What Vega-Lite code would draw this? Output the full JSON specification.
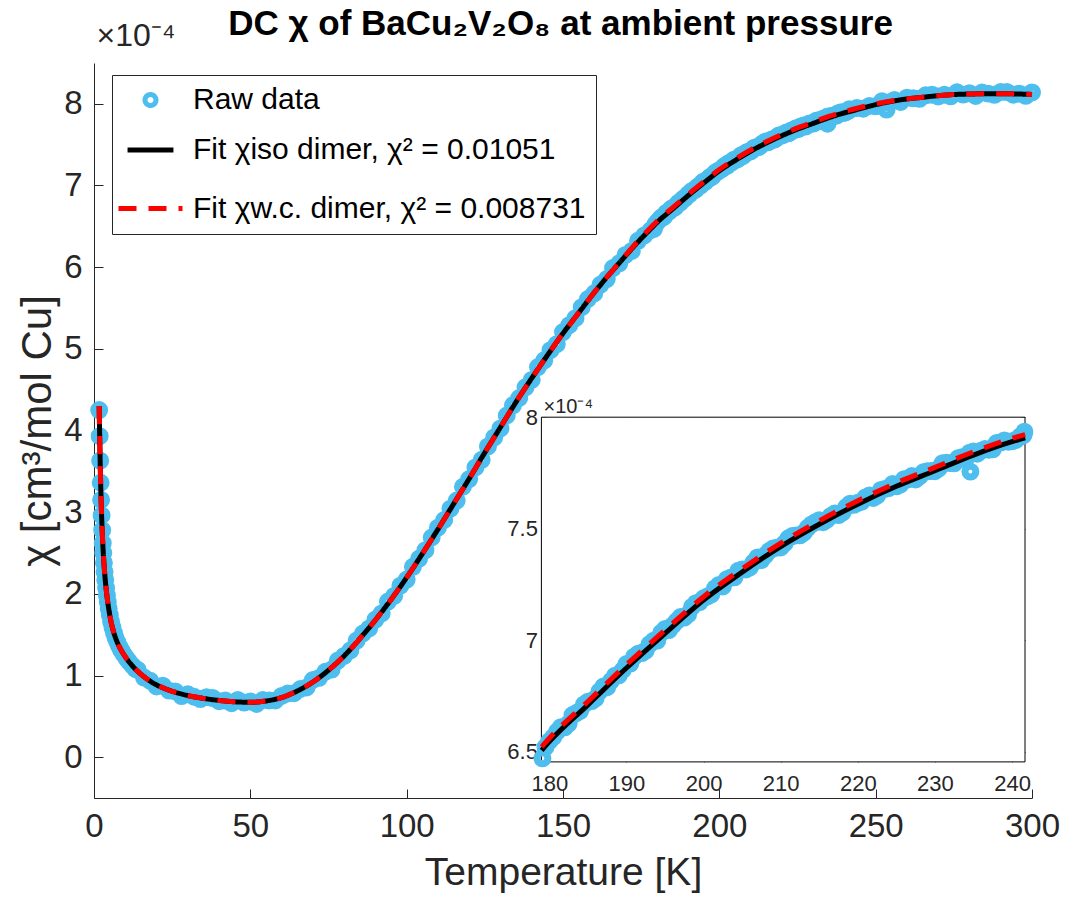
{
"$schema": "https://vega.github.io/schema/vega-lite/v6.json",
"width": 938, "height": 735,
"autosize": "none",
"padding": {"left": 94, "top": 63, "right": 33, "bottom": 103},
"background": "white",
"config": {"font": "Liberation Sans", "view": {"stroke": null}, "axis": {"grid": false}},
"datasets": {
"raw": [
{"T":1.65,"chi":4.25},{"T":1.81,"chi":3.93},{"T":1.97,"chi":3.63},{"T":2.13,"chi":3.36},{"T":2.27,"chi":3.15},{"T":2.43,"chi":2.96},{"T":2.61,"chi":2.78},{"T":2.8,"chi":2.62},{"T":2.97,"chi":2.5},{"T":3.17,"chi":2.38},{"T":3.38,"chi":2.27},{"T":3.6,"chi":2.17},{"T":3.87,"chi":2.07},{"T":4.14,"chi":1.98},{"T":4.4,"chi":1.9},{"T":4.7,"chi":1.82},{"T":5.05,"chi":1.74},{"T":5.45,"chi":1.66},{"T":5.9,"chi":1.59},{"T":6.4,"chi":1.52},{"T":6.9,"chi":1.46},{"T":7.45,"chi":1.41},{"T":8.0,"chi":1.36},{"T":8.7,"chi":1.31},{"T":9.5,"chi":1.26},{"T":10.4,"chi":1.21},{"T":11.2,"chi":1.17},{"T":12.3,"chi":1.12},{"T":13.2,"chi":1.08},
{"T":14,"chi":1.07},{"T":16,"chi":0.975},{"T":18,"chi":0.935},{"T":20,"chi":0.865},{"T":22,"chi":0.875},{"T":24,"chi":0.815},{"T":26,"chi":0.805},{"T":28,"chi":0.748},{"T":30,"chi":0.77},{"T":32,"chi":0.74},{"T":34,"chi":0.711},{"T":36,"chi":0.735},{"T":38,"chi":0.724},{"T":40,"chi":0.685},{"T":42,"chi":0.693},{"T":44,"chi":0.661},{"T":46,"chi":0.701},{"T":48,"chi":0.668},{"T":50,"chi":0.682},{"T":52,"chi":0.651},{"T":54,"chi":0.699},{"T":56,"chi":0.695},{"T":58,"chi":0.695},{"T":60,"chi":0.75},
{"T":62,"chi":0.78},{"T":64,"chi":0.783},{"T":66,"chi":0.835},{"T":68,"chi":0.853},{"T":70,"chi":0.945},{"T":72,"chi":0.971},{"T":74,"chi":1.046},{"T":76,"chi":1.073},{"T":78,"chi":1.183},{"T":80,"chi":1.24},{"T":82,"chi":1.308},{"T":84,"chi":1.428},{"T":86,"chi":1.514},{"T":88,"chi":1.577},{"T":90,"chi":1.685},{"T":92,"chi":1.76},{"T":94,"chi":1.905},{"T":96,"chi":1.975},{"T":98,"chi":2.1},{"T":100,"chi":2.175},
{"T":102,"chi":2.331},{"T":104,"chi":2.432},{"T":106,"chi":2.535},{"T":108,"chi":2.69},{"T":110,"chi":2.81},{"T":112,"chi":2.904},{"T":114,"chi":3.043},{"T":116,"chi":3.142},{"T":118,"chi":3.311},{"T":120,"chi":3.405},{"T":122,"chi":3.548},{"T":124,"chi":3.641},{"T":126,"chi":3.805},{"T":128,"chi":3.916},{"T":130,"chi":4.025},{"T":132,"chi":4.184},{"T":134,"chi":4.308},{"T":136,"chi":4.398},{"T":138,"chi":4.529},{"T":140,"chi":4.62},
{"T":142,"chi":4.777},{"T":144,"chi":4.859},{"T":146,"chi":4.984},{"T":148,"chi":5.057},{"T":150,"chi":5.205},{"T":152,"chi":5.29},{"T":154,"chi":5.375},{"T":156,"chi":5.51},{"T":158,"chi":5.61},{"T":160,"chi":5.68},{"T":162,"chi":5.787},{"T":164,"chi":5.854},{"T":166,"chi":5.989},{"T":168,"chi":6.047},{"T":170,"chi":6.15},{"T":172,"chi":6.199},{"T":174,"chi":6.323},{"T":176,"chi":6.389},{"T":178,"chi":6.452},
{"T":179.1,"chi":6.47},{"T":179.5,"chi":6.52},{"T":180,"chi":6.547},{"T":180.5,"chi":6.565},{"T":181,"chi":6.59},{"T":181.5,"chi":6.61},{"T":182,"chi":6.609},{"T":182.5,"chi":6.626},{"T":183,"chi":6.664},{"T":183.5,"chi":6.673},{"T":184,"chi":6.683},{"T":184.5,"chi":6.712},{"T":185,"chi":6.724},{"T":185.5,"chi":6.727},{"T":186,"chi":6.739},{"T":186.5,"chi":6.77},{"T":187,"chi":6.792},{"T":187.5,"chi":6.789},{"T":188,"chi":6.817},{"T":188.5,"chi":6.84},{"T":189,"chi":6.842},{"T":189.5,"chi":6.865},{"T":190,"chi":6.893},
{"T":190.5,"chi":6.895},{"T":191,"chi":6.926},{"T":191.5,"chi":6.939},{"T":192,"chi":6.942},{"T":192.5,"chi":6.953},{"T":193,"chi":6.982},{"T":193.5,"chi":6.997},{"T":194,"chi":6.998},{"T":194.5,"chi":7.033},{"T":195,"chi":7.05},{"T":195.5,"chi":7.045},{"T":196,"chi":7.066},{"T":196.5,"chi":7.085},{"T":197,"chi":7.104},{"T":197.5,"chi":7.101},{"T":198,"chi":7.116},{"T":198.5,"chi":7.149},{"T":199,"chi":7.166},{"T":199.5,"chi":7.171},{"T":200,"chi":7.188},
{"T":200.5,"chi":7.196},{"T":201,"chi":7.205},{"T":201.5,"chi":7.233},{"T":202,"chi":7.248},{"T":202.5,"chi":7.241},{"T":203,"chi":7.273},{"T":203.5,"chi":7.28},{"T":204,"chi":7.282},{"T":204.5,"chi":7.311},{"T":205,"chi":7.317},{"T":205.5,"chi":7.317},{"T":206,"chi":7.326},{"T":206.5,"chi":7.35},{"T":207,"chi":7.371},{"T":207.5,"chi":7.359},{"T":208,"chi":7.38},{"T":208.5,"chi":7.4},{"T":209,"chi":7.411},{"T":209.5,"chi":7.415},{"T":210,"chi":7.416},
{"T":210.5,"chi":7.434},{"T":211,"chi":7.457},{"T":211.5,"chi":7.467},{"T":212,"chi":7.47},{"T":212.5,"chi":7.47},{"T":213,"chi":7.482},{"T":213.5,"chi":7.504},{"T":214,"chi":7.519},{"T":214.5,"chi":7.529},{"T":215,"chi":7.538},{"T":215.5,"chi":7.529},{"T":216,"chi":7.54},{"T":216.5,"chi":7.557},{"T":217,"chi":7.568},{"T":217.5,"chi":7.561},{"T":218,"chi":7.572},{"T":218.5,"chi":7.597},{"T":219,"chi":7.612},{"T":219.5,"chi":7.607},{"T":220,"chi":7.616},
{"T":220.5,"chi":7.621},{"T":221,"chi":7.64},{"T":221.5,"chi":7.649},{"T":222,"chi":7.638},{"T":222.5,"chi":7.648},{"T":223,"chi":7.674},{"T":223.5,"chi":7.678},{"T":224,"chi":7.682},{"T":224.5,"chi":7.7},{"T":225,"chi":7.69},{"T":225.5,"chi":7.697},{"T":226,"chi":7.722},{"T":226.5,"chi":7.721},{"T":227,"chi":7.736},{"T":227.5,"chi":7.721},{"T":228,"chi":7.734},{"T":228.5,"chi":7.753},{"T":229,"chi":7.758},{"T":229.5,"chi":7.759},{"T":230,"chi":7.758},
{"T":230.5,"chi":7.77},{"T":231,"chi":7.794},{"T":231.5,"chi":7.796},{"T":232,"chi":7.794},{"T":232.5,"chi":7.793},{"T":233,"chi":7.816},{"T":233.5,"chi":7.821},{"T":234,"chi":7.812},{"T":234.5,"chi":7.841},{"T":234.6,"chi":7.756},{"T":235,"chi":7.846},{"T":235.5,"chi":7.836},{"T":236,"chi":7.85},{"T":236.5,"chi":7.858},{"T":237,"chi":7.854},{"T":237.5,"chi":7.856},{"T":238,"chi":7.884},{"T":238.5,"chi":7.886},{"T":239,"chi":7.896},{"T":239.5,"chi":7.89},{"T":240,"chi":7.892},{"T":240.5,"chi":7.898},{"T":241,"chi":7.912},{"T":241.5,"chi":7.92},{"T":241.6,"chi":7.935},
{"T":244,"chi":7.95},{"T":246,"chi":7.94},{"T":248,"chi":7.975},{"T":250,"chi":7.97},{"T":252,"chi":8.031},{"T":253.5,"chi":7.93},{"T":254,"chi":8.017},{"T":256,"chi":8.046},{"T":258,"chi":8.023},{"T":260,"chi":8.075},{"T":262,"chi":8.068},{"T":264,"chi":8.061},{"T":266,"chi":8.104},{"T":268,"chi":8.112},{"T":270,"chi":8.09},{"T":272,"chi":8.111},{"T":274,"chi":8.092},{"T":276,"chi":8.141},{"T":278,"chi":8.113},{"T":280,"chi":8.13},
{"T":282,"chi":8.097},{"T":284,"chi":8.139},{"T":286,"chi":8.125},{"T":288,"chi":8.11},{"T":290,"chi":8.145},{"T":292,"chi":8.144},{"T":294,"chi":8.112},{"T":296,"chi":8.125},{"T":298,"chi":8.098},{"T":300,"chi":8.14}
],
"fit": [
{"model":"iso","T":1.65,"chi":4.3},{"model":"iso","T":1.8,"chi":3.96},{"model":"iso","T":1.95,"chi":3.66},{"model":"iso","T":2.1,"chi":3.4},{"model":"iso","T":2.25,"chi":3.18},{"model":"iso","T":2.4,"chi":2.99},{"model":"iso","T":2.6,"chi":2.79},{"model":"iso","T":2.8,"chi":2.62},{"model":"iso","T":3.0,"chi":2.48},{"model":"iso","T":3.3,"chi":2.31},{"model":"iso","T":3.6,"chi":2.17},{"model":"iso","T":4.0,"chi":2.02},{"model":"iso","T":4.5,"chi":1.87},{"model":"iso","T":5,"chi":1.75},{"model":"iso","T":5.5,"chi":1.65},{"model":"iso","T":6,"chi":1.57},{"model":"iso","T":7,"chi":1.45},{"model":"iso","T":8,"chi":1.36},{"model":"iso","T":9,"chi":1.29},{"model":"iso","T":10,"chi":1.23},{"model":"iso","T":12,"chi":1.13},{"model":"iso","T":14,"chi":1.05},{"model":"iso","T":16,"chi":0.985},{"model":"iso","T":18,"chi":0.93},{"model":"iso","T":20,"chi":0.885},{"model":"iso","T":23,"chi":0.835},{"model":"iso","T":26,"chi":0.795},{"model":"iso","T":30,"chi":0.755},{"model":"iso","T":35,"chi":0.72},{"model":"iso","T":40,"chi":0.695},{"model":"iso","T":45,"chi":0.678},{"model":"iso","T":50,"chi":0.672},{"model":"iso","T":55,"chi":0.688},{"model":"iso","T":60,"chi":0.73},{"model":"iso","T":65,"chi":0.81},{"model":"iso","T":70,"chi":0.92},{"model":"iso","T":75,"chi":1.065},{"model":"iso","T":80,"chi":1.24},{"model":"iso","T":85,"chi":1.45},{"model":"iso","T":90,"chi":1.68},{"model":"iso","T":95,"chi":1.93},{"model":"iso","T":100,"chi":2.2},{"model":"iso","T":105,"chi":2.49},{"model":"iso","T":110,"chi":2.79},{"model":"iso","T":115,"chi":3.1},{"model":"iso","T":120,"chi":3.41},{"model":"iso","T":125,"chi":3.73},{"model":"iso","T":130,"chi":4.04},{"model":"iso","T":135,"chi":4.35},{"model":"iso","T":140,"chi":4.64},{"model":"iso","T":145,"chi":4.92},{"model":"iso","T":150,"chi":5.19},{"model":"iso","T":155,"chi":5.44},{"model":"iso","T":160,"chi":5.69},{"model":"iso","T":165,"chi":5.92},{"model":"iso","T":170,"chi":6.14},{"model":"iso","T":175,"chi":6.35},{"model":"iso","T":179,"chi":6.506},{"model":"iso","T":180,"chi":6.545},{"model":"iso","T":185,"chi":6.71},{"model":"iso","T":190,"chi":6.875},{"model":"iso","T":195,"chi":7.03},{"model":"iso","T":200,"chi":7.18},{"model":"iso","T":205,"chi":7.305},{"model":"iso","T":210,"chi":7.42},{"model":"iso","T":215,"chi":7.52},{"model":"iso","T":220,"chi":7.61},{"model":"iso","T":225,"chi":7.69},{"model":"iso","T":230,"chi":7.76},{"model":"iso","T":235,"chi":7.83},{"model":"iso","T":240,"chi":7.89},{"model":"iso","T":241.7,"chi":7.907},{"model":"iso","T":245,"chi":7.94},{"model":"iso","T":250,"chi":7.99},{"model":"iso","T":255,"chi":8.03},{"model":"iso","T":260,"chi":8.06},{"model":"iso","T":265,"chi":8.08},{"model":"iso","T":270,"chi":8.1},{"model":"iso","T":275,"chi":8.114},{"model":"iso","T":280,"chi":8.12},{"model":"iso","T":285,"chi":8.124},{"model":"iso","T":290,"chi":8.125},{"model":"iso","T":295,"chi":8.121},{"model":"iso","T":300,"chi":8.115},
{"model":"wc","T":1.65,"chi":4.3},{"model":"wc","T":1.8,"chi":3.96},{"model":"wc","T":1.95,"chi":3.66},{"model":"wc","T":2.1,"chi":3.4},{"model":"wc","T":2.25,"chi":3.18},{"model":"wc","T":2.4,"chi":2.99},{"model":"wc","T":2.6,"chi":2.79},{"model":"wc","T":2.8,"chi":2.62},{"model":"wc","T":3.0,"chi":2.48},{"model":"wc","T":3.3,"chi":2.31},{"model":"wc","T":3.6,"chi":2.17},{"model":"wc","T":4.0,"chi":2.02},{"model":"wc","T":4.5,"chi":1.87},{"model":"wc","T":5,"chi":1.75},{"model":"wc","T":5.5,"chi":1.65},{"model":"wc","T":6,"chi":1.57},{"model":"wc","T":7,"chi":1.45},{"model":"wc","T":8,"chi":1.36},{"model":"wc","T":9,"chi":1.29},{"model":"wc","T":10,"chi":1.23},{"model":"wc","T":12,"chi":1.13},{"model":"wc","T":14,"chi":1.05},{"model":"wc","T":16,"chi":0.985},{"model":"wc","T":18,"chi":0.93},{"model":"wc","T":20,"chi":0.885},{"model":"wc","T":23,"chi":0.835},{"model":"wc","T":26,"chi":0.795},{"model":"wc","T":30,"chi":0.755},{"model":"wc","T":35,"chi":0.72},{"model":"wc","T":40,"chi":0.695},{"model":"wc","T":45,"chi":0.678},{"model":"wc","T":50,"chi":0.672},{"model":"wc","T":55,"chi":0.688},{"model":"wc","T":60,"chi":0.73},{"model":"wc","T":65,"chi":0.81},{"model":"wc","T":70,"chi":0.92},{"model":"wc","T":75,"chi":1.065},{"model":"wc","T":80,"chi":1.24},{"model":"wc","T":85,"chi":1.45},{"model":"wc","T":90,"chi":1.68},{"model":"wc","T":95,"chi":1.93},{"model":"wc","T":100,"chi":2.2},{"model":"wc","T":105,"chi":2.49},{"model":"wc","T":110,"chi":2.79},{"model":"wc","T":115,"chi":3.1},{"model":"wc","T":120,"chi":3.41},{"model":"wc","T":125,"chi":3.73},{"model":"wc","T":130,"chi":4.04},{"model":"wc","T":135,"chi":4.35},{"model":"wc","T":140,"chi":4.64},{"model":"wc","T":145,"chi":4.92},{"model":"wc","T":150,"chi":5.19},{"model":"wc","T":155,"chi":5.44},{"model":"wc","T":160,"chi":5.69},{"model":"wc","T":165,"chi":5.922},{"model":"wc","T":170,"chi":6.146},{"model":"wc","T":175,"chi":6.362},{"model":"wc","T":179,"chi":6.521},{"model":"wc","T":180,"chi":6.56},{"model":"wc","T":185,"chi":6.725},{"model":"wc","T":190,"chi":6.89},{"model":"wc","T":195,"chi":7.045},{"model":"wc","T":200,"chi":7.195},{"model":"wc","T":205,"chi":7.32},{"model":"wc","T":210,"chi":7.435},{"model":"wc","T":215,"chi":7.535},{"model":"wc","T":220,"chi":7.625},{"model":"wc","T":225,"chi":7.705},{"model":"wc","T":230,"chi":7.775},{"model":"wc","T":235,"chi":7.845},{"model":"wc","T":240,"chi":7.905},{"model":"wc","T":241.7,"chi":7.922},{"model":"wc","T":245,"chi":7.955},{"model":"wc","T":250,"chi":8.0},{"model":"wc","T":255,"chi":8.035},{"model":"wc","T":260,"chi":8.06},{"model":"wc","T":265,"chi":8.08},{"model":"wc","T":270,"chi":8.1},{"model":"wc","T":275,"chi":8.114},{"model":"wc","T":280,"chi":8.12},{"model":"wc","T":285,"chi":8.124},{"model":"wc","T":290,"chi":8.125},{"model":"wc","T":295,"chi":8.121},{"model":"wc","T":300,"chi":8.115}
],
"box": [{"x1":178.97,"x2":241.68,"y1":6.454,"y2":8.0}]
},
"layer": [
{
 "encoding": {
  "x": {"field":"T","type":"quantitative","scale":{"domain":[0,300],"nice":false,"zero":false},
        "axis":{"values":[0,50,100,150,200,250,300],"title":"Temperature [K]","tickSize":-9,"labelPadding":21,"labelFontSize":33,"titleFontSize":39,"titleFontWeight":"normal","titlePadding":10,"domainColor":"#262626","tickColor":"#262626","labelColor":"#262626","titleColor":"#262626","labelFlush":false}},
  "y": {"field":"chi","type":"quantitative","scale":{"domain":[-0.5,8.5],"nice":false,"zero":false},
        "axis":{"values":[0,1,2,3,4,5,6,7,8],"title":"χ [cm³/mol Cu]","tickSize":-9,"labelPadding":21,"labelFontSize":33,"titleFontSize":42,"titleFontWeight":"normal","titlePadding":4,"domainColor":"#262626","tickColor":"#262626","labelColor":"#262626","titleColor":"#262626","labelFlush":false}}
 },
 "layer": [
  {"data":{"name":"raw"},"mark":{"type":"point","filled":false,"strokeWidth":7,"opacity":1},
   "encoding":{
     "color":{"datum":"Raw data","type":"nominal",
       "scale":{"domain":["Raw data","Fit χiso dimer, χ² = 0.01051","Fit χw.c. dimer, χ² = 0.008731"],"range":["#4DBEEE","#000000","#FF0000"]},
       "legend":{"orient":"none","legendX":18,"legendY":12,"title":null,"direction":"vertical","fillColor":"white","strokeColor":"#262626","padding":10,"symbolStrokeWidth":5,"rowPadding":8.5,"symbolOffset":-6,"labelOffset":8,"labelFontSize":30,"labelColor":"black","labelLimit":1000}},
     "shape":{"datum":"Raw data","type":"nominal",
       "scale":{"domain":["Raw data","Fit χiso dimer, χ² = 0.01051","Fit χw.c. dimer, χ² = 0.008731"],"range":["circle","stroke","stroke"]},
       "legend":{"orient":"none","legendX":18,"legendY":12,"title":null,"direction":"vertical","fillColor":"white","strokeColor":"#262626","padding":10,"symbolStrokeWidth":5,"rowPadding":8.5,"symbolOffset":-6,"labelOffset":8,"labelFontSize":30,"labelColor":"black","labelLimit":1000}},
     "size":{"datum":"Raw data","type":"nominal",
       "scale":{"domain":["Raw data","Fit χiso dimer, χ² = 0.01051","Fit χw.c. dimer, χ² = 0.008731"],"range":[120,4096,4096]},
       "legend":{"orient":"none","legendX":18,"legendY":12,"title":null,"direction":"vertical","fillColor":"white","strokeColor":"#262626","padding":10,"symbolStrokeWidth":5,"rowPadding":8.5,"symbolOffset":-6,"labelOffset":8,"labelFontSize":30,"labelColor":"black","labelLimit":1000}}
   }},
  {"data":{"name":"fit"},"transform":[{"filter":"datum.model === 'iso'"}],"mark":{"type":"line","strokeWidth":5,"interpolate":"monotone"},
   "encoding":{"color":{"datum":"Fit χiso dimer, χ² = 0.01051","type":"nominal"},
     "strokeDash":{"datum":"Fit χiso dimer, χ² = 0.01051","type":"nominal",
       "scale":{"domain":["Raw data","Fit χiso dimer, χ² = 0.01051","Fit χw.c. dimer, χ² = 0.008731"],"range":[[1,0],[1,0],[18,12]]},
       "legend":{"orient":"none","legendX":18,"legendY":12,"title":null,"direction":"vertical","fillColor":"white","strokeColor":"#262626","padding":10,"symbolStrokeWidth":5,"rowPadding":8.5,"symbolOffset":-6,"labelOffset":8,"labelFontSize":30,"labelColor":"black","labelLimit":1000}}}},
  {"data":{"name":"fit"},"transform":[{"filter":"datum.model === 'wc'"}],"mark":{"type":"line","strokeWidth":5,"interpolate":"monotone"},
   "encoding":{"color":{"datum":"Fit χw.c. dimer, χ² = 0.008731","type":"nominal"},
     "strokeDash":{"datum":"Fit χw.c. dimer, χ² = 0.008731","type":"nominal"}}}
 ]
},
{
 "data":{"name":"box"},
 "mark":{"type":"point","opacity":0},
 "encoding":{
  "x":{"field":"x1","type":"quantitative","scale":{"domain":[0,300],"nice":false,"zero":false},
       "axis":{"orient":"top","labels":false,"ticks":false,"domain":false,"title":"DC χ of BaCu₂V₂O₈ at ambient pressure","titleAngle":0,"titleX":466,"titleY":-29,"titleAlign":"center","titleBaseline":"alphabetic","titleFontSize":35,"titleFontWeight":"bold","titleColor":"black"}},
  "y":{"field":"y1","type":"quantitative","scale":{"domain":[-0.5,8.5],"nice":false,"zero":false},
       "axis":{"orient":"left","labels":false,"ticks":false,"domain":false,"title":"×10⁻⁴","titleAngle":0,"titleX":2,"titleY":-18,"titleAlign":"left","titleBaseline":"alphabetic","titleFontSize":32,"titleFontWeight":"normal","titleColor":"#262626"}}
 }
},
{
 "encoding": {
  "x": {"field":"T","type":"quantitative","scale":{"domain":[178.97,241.68],"range":[447.4,931],"nice":false,"zero":false},
        "axis":{"orient":"bottom","offset":-36.1,"values":[180,190,200,210,220,230,240],"domain":false,"tickSize":-5,"labelPadding":17,"labelFontSize":22,"labelColor":"#262626","tickColor":"#262626","title":null,"labelFlush":false}},
  "y": {"field":"chi","type":"quantitative","scale":{"domain":[6.454,8.0],"range":[698.9,354.2],"nice":false,"zero":false},
        "axis":{"orient":"left","offset":-447.4,"values":[6.5,7,7.5,8],"format":"~g","domain":false,"tickSize":-5,"labelPadding":9,"labelFontSize":22,"labelColor":"#262626","tickColor":"#262626","title":null,"labelFlush":false}}
 },
 "layer": [
  {"data":{"name":"box"},"mark":{"type":"rect","fill":"white","stroke":"#000000","strokeWidth":1},
   "encoding":{"x":{"field":"x1","type":"quantitative"},"x2":{"field":"x2"},"y":{"field":"y1","type":"quantitative"},"y2":{"field":"y2"}}},
  {"data":{"name":"raw"},"transform":[{"filter":"datum.T >= 178.9 && datum.T <= 241.7"}],"mark":{"type":"point","filled":false,"strokeWidth":7,"size":120,"color":"#4DBEEE","opacity":1}},
  {"data":{"name":"fit"},"transform":[{"filter":"datum.model === 'iso' && datum.T >= 178.9 && datum.T <= 241.7"}],"mark":{"type":"line","strokeWidth":5,"color":"#000000","interpolate":"monotone"}},
  {"data":{"name":"fit"},"transform":[{"filter":"datum.model === 'wc' && datum.T >= 178.9 && datum.T <= 241.7"}],"mark":{"type":"line","strokeWidth":5,"color":"#FF0000","strokeDash":[18,12],"interpolate":"monotone"}}
 ]
},
{
 "data":{"name":"box"},
 "mark":{"type":"point","opacity":0},
 "encoding":{
  "x":{"field":"x1","type":"quantitative","scale":{"domain":[178.97,241.68],"range":[447.4,931],"nice":false,"zero":false},
       "axis":{"orient":"top","offset":-354.2,"values":[180,190,200,210,220,230,240],"labels":false,"domain":false,"tickSize":-5,"tickColor":"#262626",
               "title":"×10⁻⁴","titleAngle":0,"titleX":449,"titleY":-5,"titleAlign":"left","titleBaseline":"alphabetic","titleFontSize":20,"titleFontWeight":"normal","titleColor":"#262626"}},
  "y":{"field":"y1","type":"quantitative","scale":{"domain":[6.454,8.0],"range":[698.9,354.2],"nice":false,"zero":false},
       "axis":{"orient":"right","offset":-7,"values":[6.5,7,7.5,8],"labels":false,"domain":false,"tickSize":-5,"tickColor":"#262626","title":null}}
 }
}
],
"resolve": {"scale": {"x": "independent", "y": "independent"}, "axis": {"x": "independent", "y": "independent"}}
}
